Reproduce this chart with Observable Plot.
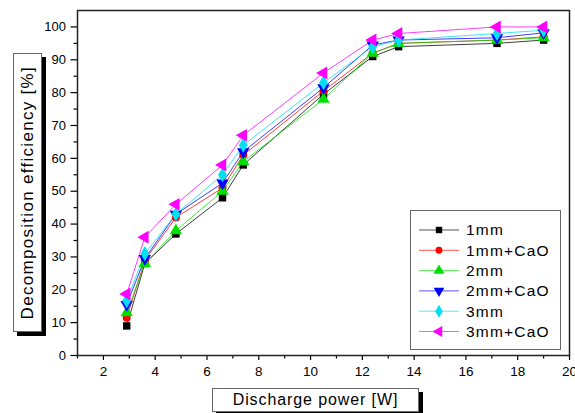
<!DOCTYPE html>
<html><head><meta charset="utf-8">
<script src="https://cdn.jsdelivr.net/npm/d3@7"></script>
<script src="https://cdn.jsdelivr.net/npm/@observablehq/plot@0.6"></script>
<style>
body{margin:0;background:#fff;}
#wrap{position:relative;width:575px;height:413px;overflow:hidden;font-family:"Liberation Sans",Arial,sans-serif;}
.lbl{position:absolute;background:#fff;border:1px solid #666;box-shadow:4px 4px 0 #000;box-sizing:border-box;display:flex;align-items:center;justify-content:center;color:#000;}
#ylab{left:13px;top:53px;width:29px;height:279px;font-size:17px;letter-spacing:1.3px;}
#ylab span{writing-mode:vertical-rl;transform:rotate(180deg);white-space:nowrap;}
#xlab{left:212px;top:388px;width:207px;height:24px;font-size:16px;letter-spacing:0.9px;}
</style></head>
<body><div id="wrap"></div>
<script>
const power = [2.9, 3.6, 4.8, 6.6, 7.4, 10.5, 12.4, 13.4, 17.2, 19.0];
const s1mm    = [9, 28, 37, 48, 58, 79.5, 91, 94, 95, 96];
const s1mmCaO = [11.5, 29, 42, 51, 61, 80.5, 92, 95, 96, 97];
const s2mm    = [13, 28, 38, 50, 59, 78, 92, 95, 96, 96.7];
const s2mmCaO = [15.5, 29.5, 43, 52.5, 62, 81.5, 94.5, 96, 96.7, 98.2];
const s3mm    = [16.7, 31, 43, 55, 64, 83, 94, 96, 98, 99];
const s3mmCaO = [18.7, 36, 46, 58, 67, 86, 96, 98, 100, 100];
const seriesNames = ["1mm", "1mm+CaO", "2mm", "2mm+CaO", "3mm", "3mm+CaO"];
const seriesValues = [s1mm, s1mmCaO, s2mm, s2mmCaO, s3mm, s3mmCaO];
const colors = ["#000000", "#ff0000", "#00e000", "#0000ff", "#00e0f0", "#ff00ff"];
const xTicks = [2, 4, 6, 8, 10, 12, 14, 16, 18, 20];
const xMinor = [1, 3, 5, 7, 9, 11, 13, 15, 17, 19];
const yTicks = [0, 10, 20, 30, 40, 50, 60, 70, 80, 90, 100];
const yMinor = [5, 15, 25, 35, 45, 55, 65, 75, 85, 95];

const s3 = Math.sqrt(3);
const triDown = {draw(c, size){ const y = -Math.sqrt(size / (3 * s3)); c.moveTo(0, -y*2); c.lineTo(-s3*y, y); c.lineTo(s3*y, y); c.closePath(); }};
const triLeft = {draw(c, size){ const y = -Math.sqrt(size / (3 * s3)); c.moveTo(y*2, 0); c.lineTo(-y, -s3*y); c.lineTo(-y, s3*y); c.closePath(); }};
const symbols = [d3.symbolSquare, d3.symbolCircle, d3.symbolTriangle, triDown, d3.symbolDiamond, triLeft];
const radii = [4.2, 4, 4.6, 4.6, 4.6, 4.8];

const rows = [];
seriesNames.forEach((name, i) => power.forEach((p, j) => rows.push({name, i, x: p, y: seriesValues[i][j]})));

const marks = [];
seriesNames.forEach((name, i) => {
  marks.push(Plot.line(rows.filter(d => d.i === i), {x: "x", y: "y", stroke: colors[i], strokeWidth: 0.9, strokeOpacity: 0.85}));
});
seriesNames.forEach((name, i) => {
  marks.push(Plot.dot(rows.filter(d => d.i === i), {x: "x", y: "y", fill: colors[i], stroke: "none", symbol: symbols[i], r: radii[i]}));
});

const plot = Plot.plot({
  width: 575, height: 413,
  marginLeft: 77, marginRight: 6, marginTop: 10, marginBottom: 58,
  style: {fontFamily: "'Liberation Sans', Arial, sans-serif", fontSize: "13px", color: "#000", background: "#fff", overflow: "visible"},
  x: {domain: [1, 20]},
  y: {domain: [0, 105]},
  marks: [
    Plot.axisX({ticks: xTicks, tickSize: 5, tickPadding: 6, label: null, fontSize: 13.5, strokeWidth: 1.2}),
    Plot.axisX({ticks: xMinor, tickSize: 3.5, text: null, label: null, strokeWidth: 1.2}),
    Plot.axisY({ticks: yTicks, tickSize: 6.5, tickPadding: 5, label: null, fontSize: 13, strokeWidth: 1.2}),
    Plot.axisY({ticks: yMinor, tickSize: 3.5, text: null, label: null, strokeWidth: 1.2}),
    ...marks,
    Plot.frame({stroke: "#222", strokeWidth: 1.5})
  ]
});
document.getElementById("wrap").appendChild(plot);

// legend
const svg = d3.select(plot);
const lg = svg.append("g").attr("text-anchor", "start");
lg.append("rect").attr("x", 410.5).attr("y", 210.5).attr("width", 150).attr("height", 139)
  .attr("fill", "#fff").attr("stroke", "#666").attr("stroke-width", 1);
seriesNames.forEach((name, i) => {
  const cy = 230 + i * 20.3;
  lg.append("line").attr("x1", 419).attr("x2", 459).attr("y1", cy).attr("y2", cy)
    .attr("stroke", colors[i]).attr("stroke-width", 0.9).attr("stroke-opacity", 0.75);
  lg.append("path").attr("d", d3.symbol(symbols[i], Math.PI * radii[i] * radii[i] * 0.75)())
    .attr("transform", `translate(439,${cy})`).attr("fill", colors[i]);
  lg.append("text").attr("x", 466).attr("y", cy).attr("dy", "0.35em").attr("text-anchor", "start")
    .attr("font-size", 15.5).attr("letter-spacing", 1.2).attr("fill", "#000").text(name);
});

const yl = document.createElement("div"); yl.className = "lbl"; yl.id = "ylab";
yl.innerHTML = "<span>Decomposition efficiency [%]</span>";
const xl = document.createElement("div"); xl.className = "lbl"; xl.id = "xlab";
xl.textContent = "Discharge power [W]";
document.getElementById("wrap").append(yl, xl);
</script>
</body></html>
